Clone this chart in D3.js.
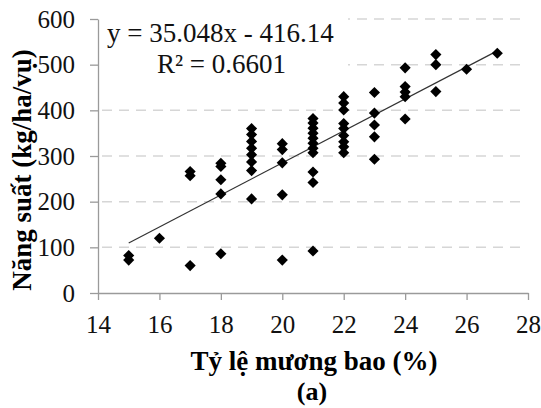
<!DOCTYPE html>
<html>
<head>
<meta charset="utf-8">
<script src="https://cdn.jsdelivr.net/npm/d3@7"></script>
<style>
  body { margin: 0; background: #fff; }
  text { font-family: "Liberation Serif", "Times New Roman", serif; }
</style>
</head>
<body>
<div id="chart"></div>
<script>
// ty le muong bao (%) -> nang suat (kg/ha/vu)
const xValues = [
  15, 15,
  16,
  17, 17, 17,
  18, 18, 18, 18, 18,
  19, 19, 19, 19, 19, 19, 19, 19,
  20, 20, 20, 20, 20,
  21, 21, 21, 21, 21, 21, 21, 21, 21, 21, 21,
  22, 22, 22, 22, 22, 22, 22, 22, 22,
  23, 23, 23, 23, 23,
  24, 24, 24, 24, 24,
  25, 25, 25,
  26,
  27
];
const yValues = [
  82, 72,
  120,
  266, 257, 60,
  284, 277, 248, 217, 86,
  360, 347, 332, 317, 303, 287, 268, 206,
  327, 314, 285, 215, 72,
  382, 372, 361, 350, 339, 328, 317, 307, 265, 242, 92,
  430, 416, 401, 371, 360, 345, 331, 320, 307,
  439, 394, 368, 342, 293,
  493, 452, 440, 430, 381,
  522, 500, 441,
  490,
  525
];
const xTicks = [14, 16, 18, 20, 22, 24, 26, 28];
const yTicks = [0, 100, 200, 300, 400, 500, 600];
const slope = 35.048;
const intercept = -416.14;
const eqLabel = "y = 35.048x - 416.14";
const r2Label = "R² = 0.6601";
const xTitle = "Tỷ lệ mương bao (%)";
const yTitle = "Năng suất (kg/ha/vụ)";
const subTitle = "(a)";

const width = 541, height = 408;
const margin = {top: 19, right: 13, bottom: 115, left: 98};

const svg = d3.select("#chart").append("svg")
  .attr("width", width)
  .attr("height", height);

const x = d3.scaleLinear().domain([14, 28]).range([margin.left, width - margin.right]);
const y = d3.scaleLinear().domain([0, 600]).range([height - margin.bottom, margin.top]);

// grid
svg.append("g")
  .selectAll("line")
  .data(yTicks.filter(d => d > 0))
  .join("line")
  .attr("x1", x(14) + 4)
  .attr("x2", x(28) - 4)
  .attr("y1", d => y(d))
  .attr("y2", d => y(d))
  .style("stroke", "#d6d6d6")
  .style("stroke-width", 1.5)
  .style("stroke-dasharray", "10,7");

// axes
const xAxis = d3.axisBottom(x).tickValues(xTicks).tickSize(7).tickSizeOuter(0);
const gx = svg.append("g")
  .attr("transform", `translate(0,${y(0)})`)
  .call(xAxis);
const yAxis = d3.axisLeft(y).tickValues(yTicks).tickSize(8).tickSizeOuter(0);
const gy = svg.append("g")
  .attr("transform", `translate(${x(14)},0)`)
  .call(yAxis);

for (const g of [gx, gy]) {
  g.selectAll(".domain").style("stroke", "#9a9a9a").style("stroke-width", 1.3);
  g.selectAll(".tick line").style("stroke", "#9a9a9a").style("stroke-width", 1.3);
  g.selectAll(".tick text")
    .style("font-family", "'Liberation Serif', serif")
    .style("font-size", "25px")
    .style("fill", "#111");
}
gx.selectAll(".tick text").attr("y", 40).attr("dy", 0);
gy.selectAll(".tick text").attr("x", -23);

// equation label (white box hides the grid behind it)
svg.append("rect")
  .attr("x", x(14) + 4)
  .attr("y", y(600) - 6)
  .attr("width", 246)
  .attr("height", 70)
  .style("fill", "#fff");

svg.append("text")
  .attr("x", 107)
  .attr("y", 42)
  .style("font-size", "27px")
  .style("fill", "#111")
  .text(eqLabel);
svg.append("text")
  .attr("x", 157)
  .attr("y", 73)
  .style("font-size", "27px")
  .style("fill", "#111")
  .text(r2Label);

// trendline
const x0 = d3.min(xValues), x1 = d3.max(xValues);
svg.append("line")
  .attr("x1", x(x0))
  .attr("y1", y(slope * x0 + intercept))
  .attr("x2", x(x1))
  .attr("y2", y(slope * x1 + intercept))
  .style("stroke", "#333")
  .style("stroke-width", 1.2);

// points
const diamond = d3.symbol().type(d3.symbolSquare).size(62);
svg.append("g")
  .selectAll("path")
  .data(d3.zip(xValues, yValues))
  .join("path")
  .attr("d", diamond)
  .attr("transform", d => `translate(${x(d[0])},${y(d[1])}) rotate(45)`)
  .style("fill", "#000");

// titles
svg.append("text")
  .attr("x", 314)
  .attr("y", 370)
  .attr("text-anchor", "middle")
  .style("font-size", "27px")
  .style("font-weight", "bold")
  .text(xTitle);
svg.append("text")
  .attr("x", 312)
  .attr("y", 400)
  .attr("text-anchor", "middle")
  .style("font-size", "26px")
  .style("font-weight", "bold")
  .text(subTitle);
svg.append("text")
  .attr("transform", "translate(31,170) rotate(-90)")
  .attr("text-anchor", "middle")
  .style("font-size", "27px")
  .style("font-weight", "bold")
  .text(yTitle);
</script>
</body>
</html>
